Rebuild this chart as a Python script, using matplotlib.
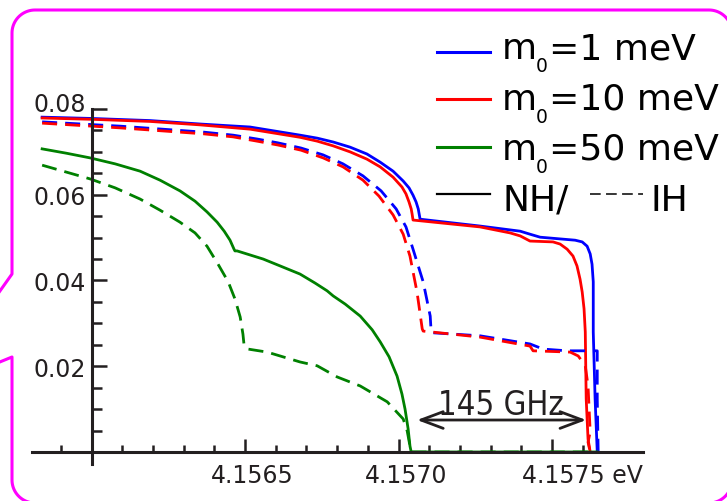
# Recreate the m0 / NH-IH endpoint spectrum figure
import numpy as np
import matplotlib
matplotlib.use('Agg')
import matplotlib.pyplot as plt
from matplotlib.transforms import ScaledTranslation
from matplotlib.lines import Line2D

# ---- data (energy in eV) ----
blue_nh_x = [4.155839, 4.155998, 4.156191, 4.156353, 4.156516, 4.156679, 4.156735, 4.156787,
             4.156842, 4.156897, 4.156940, 4.156982, 4.157015, 4.157034, 4.157047, 4.157057,
             4.157064, 4.157067, 4.157070, 4.157265, 4.157396, 4.157428, 4.157461, 4.157526,
             4.157575, 4.157598, 4.157614, 4.157624, 4.157630, 4.157634, 4.157634, 4.157640,
             4.157647]
blue_nh_y = [0.0781, 0.0778, 0.0773, 0.0765, 0.0758, 0.0739, 0.0732, 0.0723,
             0.0711, 0.0695, 0.0676, 0.0655, 0.0632, 0.0616, 0.0599, 0.0583,
             0.0567, 0.0555, 0.0543, 0.0527, 0.0515, 0.0508, 0.0501, 0.0497,
             0.0494, 0.0490, 0.0480, 0.0462, 0.0438, 0.0397, 0.0280, 0.0124,
             0.0]

red_nh_x = [4.155839, 4.155998, 4.156191, 4.156353, 4.156516, 4.156679, 4.156735, 4.156787,
            4.156842, 4.156897, 4.156940, 4.156982, 4.157011, 4.157024, 4.157034, 4.157041,
            4.157044, 4.157047, 4.157265, 4.157363, 4.157396, 4.157428, 4.157503, 4.157526,
            4.157549, 4.157568, 4.157581, 4.157591, 4.157598, 4.157604, 4.157608, 4.157611,
            4.157617, 4.157624]
red_nh_y = [0.0779, 0.0776, 0.0771, 0.0763, 0.0753, 0.0734, 0.0725, 0.0714,
            0.0700, 0.0683, 0.0665, 0.0641, 0.0618, 0.0602, 0.0583, 0.0567,
            0.0555, 0.0541, 0.0525, 0.0511, 0.0504, 0.0492, 0.0490, 0.0485,
            0.0473, 0.0457, 0.0434, 0.0403, 0.0373, 0.0334, 0.0280, 0.0124,
            0.0030, 0.0]

blue_ih_x = [4.155839, 4.156093, 4.156366, 4.156461, 4.156539, 4.156607, 4.156682, 4.156754,
             4.156819, 4.156884, 4.156943, 4.156992, 4.157024, 4.157047, 4.157080, 4.157103,
             4.157106, 4.157112, 4.157265, 4.157428, 4.157471, 4.157549, 4.157647, 4.157647,
             4.157650]
blue_ih_y = [0.0770, 0.0760, 0.0746, 0.0739, 0.0730, 0.0721, 0.0709, 0.0693,
             0.0672, 0.0644, 0.0609, 0.0567, 0.0525, 0.0473, 0.0397, 0.0317,
             0.0280, 0.0278, 0.0271, 0.0252, 0.0240, 0.0236, 0.0236, 0.0124,
             0.0]

red_ih_x = [4.155839, 4.156093, 4.156366, 4.156461, 4.156539, 4.156607, 4.156682, 4.156754,
            4.156819, 4.156884, 4.156936, 4.156982, 4.157015, 4.157037, 4.157060, 4.157077,
            4.157080, 4.157265, 4.157428, 4.157438, 4.157559, 4.157585, 4.157608, 4.157617,
            4.157624, 4.157617, 4.157624]
red_ih_y = [0.0767, 0.0756, 0.0742, 0.0735, 0.0725, 0.0716, 0.0704, 0.0686,
            0.0665, 0.0634, 0.0597, 0.0553, 0.0508, 0.0457, 0.0373, 0.0287,
            0.0282, 0.0268, 0.0247, 0.0236, 0.0233, 0.0224, 0.0201, 0.0154,
            0.0047, 0.0023, 0.0]

green_nh_x = [4.155839, 4.155917, 4.155995, 4.156077, 4.156158, 4.156223, 4.156288, 4.156337,
              4.156376, 4.156409, 4.156432, 4.156451, 4.156464, 4.156467, 4.156474, 4.156559,
              4.156614, 4.156679, 4.156728, 4.156767, 4.156787, 4.156826, 4.156875, 4.156914,
              4.156940, 4.156969, 4.156995, 4.157011, 4.157021, 4.157031, 4.157037, 4.157041,
              4.157647]
green_nh_y = [0.0707, 0.0697, 0.0686, 0.0672, 0.0655, 0.0634, 0.0609, 0.0585,
              0.0560, 0.0536, 0.0515, 0.0494, 0.0473, 0.0469, 0.0469, 0.0450,
              0.0434, 0.0415, 0.0394, 0.0376, 0.0364, 0.0345, 0.0317, 0.0285,
              0.0257, 0.0222, 0.0177, 0.0135, 0.0100, 0.0054, 0.0014, 0.0,
              0.0]

green_ih_x = [4.155839, 4.155917, 4.155995, 4.156077, 4.156158, 4.156223, 4.156288, 4.156337,
              4.156376, 4.156412, 4.156445, 4.156467, 4.156484, 4.156493, 4.156497, 4.156510,
              4.156572, 4.156679, 4.156735, 4.156800, 4.156875, 4.156963, 4.157015, 4.157028,
              4.157037, 4.157041, 4.157647]
green_ih_y = [0.0669, 0.0653, 0.0637, 0.0616, 0.0590, 0.0564, 0.0536, 0.0511,
              0.0480, 0.0438, 0.0397, 0.0357, 0.0315, 0.0275, 0.0247, 0.0240,
              0.0233, 0.0210, 0.0201, 0.0175, 0.0154, 0.0117, 0.0077, 0.0049,
              0.0014, 0.0, 0.0]

x_major = [4.1565, 4.1570, 4.1575]
x_labels = ['4.1565', '4.1570', '4.1575 eV']
x_minor = [4.1559, 4.1561, 4.1562, 4.1563, 4.1564, 4.1566, 4.1567, 4.1568, 4.1569,
           4.1571, 4.1572, 4.1573, 4.1574, 4.1576]
y_major = [0.02, 0.04, 0.06, 0.08]
y_labels = ['0.02', '0.04', '0.06', '0.08']
y_minor = [0.005, 0.01, 0.015, 0.025, 0.03, 0.035, 0.045, 0.05, 0.055, 0.065, 0.07, 0.075]

legend_rest = ['=1 meV', '=10 meV', '=50 meV']
legend_colors = ['#0000ff', '#ff0000', '#008000']

gap_left, gap_right, gap_y = 4.157060, 4.157611, 0.00746
gap_text = '145 GHz'

ink = '#231f20'
plt.rcParams['font.family'] = ['DejaVu Sans']

fig = plt.figure(figsize=(7.27, 5.02), dpi=100)
ax = fig.add_axes([32 / 727, 37 / 502, 611 / 727, 355 / 502])
ax.set_xlim(4.155806, 4.157796)
ax.set_ylim(-0.0028, 0.08)

dash = (0, (5.4, 2.9))
ax.plot(blue_nh_x, blue_nh_y, color='#0000ff', lw=2)
ax.plot(red_nh_x, red_nh_y, color='#ff0000', lw=2)
ax.plot(blue_ih_x, blue_ih_y, color='#0000ff', lw=2, ls=dash)
ax.plot(red_ih_x, red_ih_y, color='#ff0000', lw=2, ls=dash)
ax.plot(green_nh_x, green_nh_y, color='#008000', lw=2)
ax.plot(green_ih_x, green_ih_y, color='#008000', lw=2, ls=dash)

# axes crossing inside the plot
for s in ['top', 'right']:
    ax.spines[s].set_visible(False)
ax.spines['left'].set_position(('data', 4.1560))
ax.spines['left'].set_bounds(-0.0028, 0.08)
ax.spines['bottom'].set_position(('data', 0))
for s in ['left', 'bottom']:
    ax.spines[s].set_linewidth(2.2)
    ax.spines[s].set_color(ink)
    ax.spines[s].set_zorder(3)

ax.set_xticks(x_major)
ax.set_xticklabels(x_labels)
ax.set_xticks(x_minor, minor=True)
ax.set_yticks(y_major)
ax.set_yticklabels(y_labels)
ax.set_yticks(y_minor, minor=True)
ax.tick_params(axis='x', which='major', direction='in', length=9.4, width=1.8,
               color=ink, labelcolor=ink, labelsize=17, pad=8)
ax.tick_params(axis='x', which='minor', direction='in', length=5, width=1.8, color=ink)
ax.tick_params(axis='y', which='major', direction='in', length=10.8, width=1.8,
               color=ink, labelcolor=ink, labelsize=17, pad=4.3)
ax.tick_params(axis='y', which='minor', direction='in', length=7.2, width=1.8, color=ink)

# nudge tick labels like the original
for i, lab in enumerate(ax.get_xticklabels()):
    dx = 0.30 if i == 2 else 0.075
    lab.set_transform(lab.get_transform() + ScaledTranslation(dx, 0, fig.dpi_scale_trans))
top_lab = ax.get_yticklabels()[-1]
top_lab.set_transform(top_lab.get_transform() + ScaledTranslation(0, 0.07, fig.dpi_scale_trans))

# 145 GHz gap arrow
ax.annotate('', xy=(gap_left, gap_y), xytext=(gap_right, gap_y),
            arrowprops=dict(arrowstyle='<->,head_length=0.8,head_width=0.3', lw=2,
                            color=ink, shrinkA=0, shrinkB=0, mutation_scale=20))
ax.text((gap_left + gap_right) / 2 - 0.000003, 0.00886, gap_text, ha='center', va='baseline',
        fontsize=23.5, fontstretch='condensed', color=ink)

# overlay in pixel units for the legend and the bubble frame
ov = fig.add_axes([0, 0, 1, 1], facecolor='none')
ov.set_xlim(0, 727)
ov.set_ylim(502, 0)
ov.axis('off')

for rest, col, ly, by in zip(legend_rest, legend_colors, [53, 100, 148], [59, 110, 160]):
    ov.plot([437, 490], [ly, ly], color=col, lw=2.2)
    ov.text(502, by, 'm', fontsize=26, color='black', va='baseline')
    ov.text(536, by + 13, '0', fontsize=13.5, color='black', va='baseline')
    ov.text(549, by, rest, fontsize=26, color='black', va='baseline')
ov.plot([437, 490], [195, 195], color='black', lw=1.6)
ov.text(502, 211, 'NH/', fontsize=26, color='black', va='baseline')
ov.plot([590, 643], [195, 195], color='black', lw=1.1, ls=(0, (7, 3.5)))
ov.text(650, 211, 'IH', fontsize=26, color='black', va='baseline')

# speech bubble frame
def arc(cx, cy, r, a0, a1):
    t = np.radians(np.linspace(a0, a1, 20))
    return list(zip(cx + r * np.cos(t), cy + r * np.sin(t)))

r = 23
pts = [(-10, 367), (12, 358), (12, 481)]
pts += arc(12 + r, 504 - r, r, 180, 90)
pts += [(732 - r, 504)]
pts += arc(732 - r, 504 - r, r, 90, 0)
pts += [(732, 11 + r)]
pts += arc(732 - r, 11 + r, r, 0, -90)
pts += [(12 + r, 11)]
pts += arc(12 + r, 11 + r, r, -90, -180)
pts += [(12, 275), (-10, 306)]
px, py = zip(*pts)
ov.add_line(Line2D(px, py, color='#ff00ff', lw=2.2, clip_on=False, solid_joinstyle='round'))

fig.savefig('out.png', dpi=100)
